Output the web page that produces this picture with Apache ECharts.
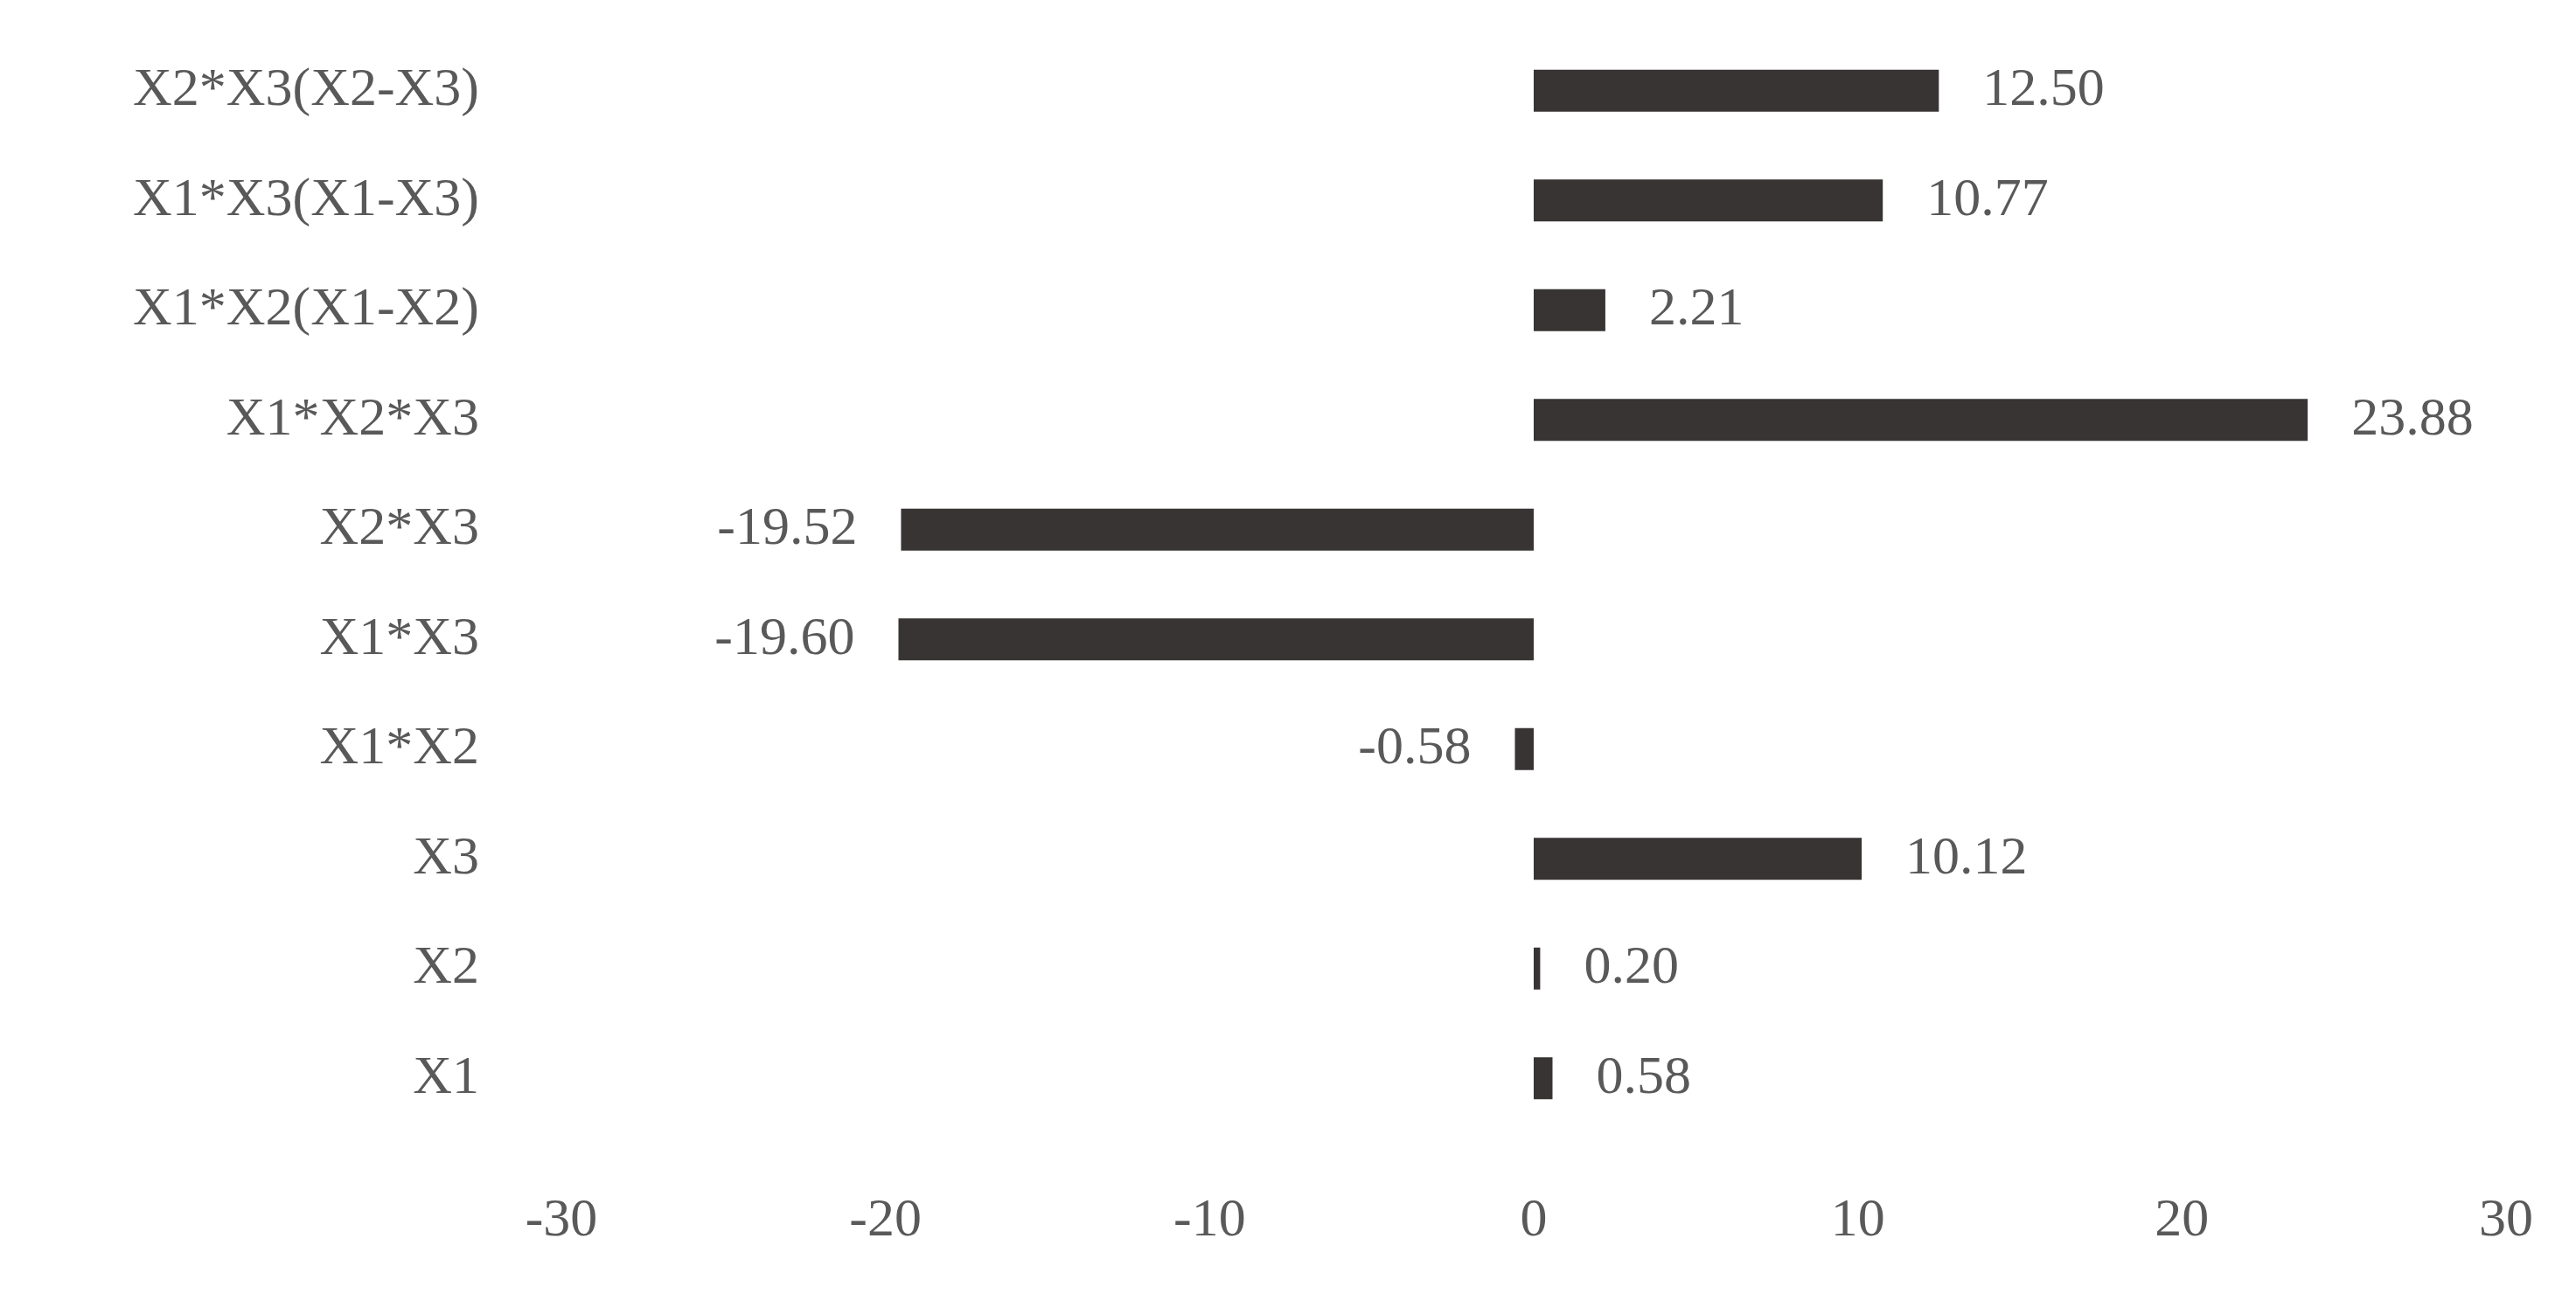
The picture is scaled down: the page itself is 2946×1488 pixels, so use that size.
<!DOCTYPE html>
<html>
<head>
<meta charset="utf-8">
<script src="https://cdn.jsdelivr.net/npm/echarts@6/dist/echarts.min.js"></script>
<style>html,body{margin:0;padding:0;background:#fff}#chart{width:2946px;height:1488px}</style>
</head>
<body>
<div id="chart"></div>
<script>
// bottom to top
var categories = ['X1', 'X2', 'X3', 'X1*X2', 'X1*X3', 'X2*X3', 'X1*X2*X3', 'X1*X2(X1-X2)', 'X1*X3(X1-X3)', 'X2*X3(X2-X3)'];
var effects = [0.58, 0.20, 10.12, -0.58, -19.60, -19.52, 23.88, 2.21, 10.77, 12.50];

var font = '"Liberation Serif", "DejaVu Serif", serif';
var chart = echarts.init(document.getElementById('chart'));
chart.setOption({
  animation: false,
  grid: { left: 642, right: 80, top: 41, bottom: 192 },
  xAxis: {
    type: 'value', min: -30, max: 30, interval: 10,
    axisLine: { show: false }, axisTick: { show: false }, splitLine: { show: false },
    axisLabel: { color: '#595959', fontFamily: font, fontSize: 62, margin: 70 }
  },
  yAxis: {
    type: 'category', data: categories,
    axisLine: { show: false }, axisTick: { show: false },
    axisLabel: { color: '#595959', fontFamily: font, fontSize: 62, margin: 94 }
  },
  series: [{
    type: 'bar',
    barWidth: 48,
    itemStyle: { color: '#383434' },
    data: effects.map(function (v) {
      return {
        value: v,
        label: { position: v < 0 ? 'left' : 'right' }
      };
    }),
    label: {
      show: true, distance: 50, color: '#595959', fontFamily: font, fontSize: 62,
      formatter: function (p) { return p.value.toFixed(2); }
    }
  }]
});
</script>
</body>
</html>
